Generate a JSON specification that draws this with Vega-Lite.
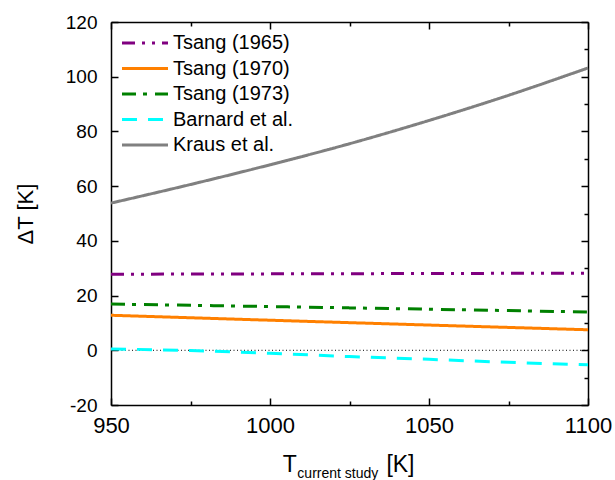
{
  "$schema": "https://vega.github.io/schema/vega-lite/v6.json",
  "width": 477,
  "height": 383,
  "autosize": "none",
  "padding": {"left": 111, "top": 22, "right": 27, "bottom": 75},
  "background": "white",
  "config": {
    "font": "Liberation Sans",
    "view": {"stroke": null},
    "legend": {
      "orient": "none",
      "legendX": 21,
      "legendY": 8,
      "padding": 0,
      "labelFont": "Liberation Sans",
      "labelFontSize": 20,
      "labelColor": "black",
      "symbolType": "M-2,0H2",
      "symbolSize": 529,
      "symbolStrokeWidth": 3,
      "rowPadding": 2.5,
      "labelOffset": 15
    }
  },
  "datasets": {
    "curves": [
      {"series": "Tsang (1965)", "T": 950, "dT": 27.8},
      {"series": "Tsang (1965)", "T": 1025, "dT": 28.0},
      {"series": "Tsang (1965)", "T": 1100, "dT": 28.2},
      {"series": "Tsang (1970)", "T": 950, "dT": 12.8},
      {"series": "Tsang (1970)", "T": 1025, "dT": 10.1},
      {"series": "Tsang (1970)", "T": 1100, "dT": 7.5},
      {"series": "Tsang (1973)", "T": 950, "dT": 16.9},
      {"series": "Tsang (1973)", "T": 1025, "dT": 15.5},
      {"series": "Tsang (1973)", "T": 1100, "dT": 14.0},
      {"series": "Barnard et al.", "T": 950, "dT": 0.5},
      {"series": "Barnard et al.", "T": 975, "dT": -0.1},
      {"series": "Barnard et al.", "T": 1000, "dT": -1.1},
      {"series": "Barnard et al.", "T": 1025, "dT": -2.3},
      {"series": "Barnard et al.", "T": 1050, "dT": -3.3},
      {"series": "Barnard et al.", "T": 1075, "dT": -4.4},
      {"series": "Barnard et al.", "T": 1100, "dT": -5.3},
      {"series": "Kraus et al.", "T": 950, "dT": 53.8},
      {"series": "Kraus et al.", "T": 975, "dT": 60.6},
      {"series": "Kraus et al.", "T": 1000, "dT": 67.8},
      {"series": "Kraus et al.", "T": 1025, "dT": 75.5},
      {"series": "Kraus et al.", "T": 1050, "dT": 84.0},
      {"series": "Kraus et al.", "T": 1075, "dT": 93.2},
      {"series": "Kraus et al.", "T": 1100, "dT": 103.2}
    ],
    "zero": [
      {"T": 950, "dT": 0},
      {"T": 1100, "dT": 0}
    ]
  },
  "layer": [
    {
      "layer": [
        {
          "data": {"name": "zero"},
          "mark": {"type": "line", "color": "black", "strokeWidth": 1, "strokeDash": [1, 2.5]},
          "encoding": {
            "x": {
              "field": "T", "type": "quantitative",
              "scale": {"domain": [950, 1100], "nice": false, "zero": false},
              "axis": {
                "orient": "bottom",
                "title": null,
                "grid": false,
                "values": [950, 975, 1000, 1025, 1050, 1075, 1100],
                "labelExpr": "datum.value % 50 === 0 ? toString(datum.value) : ''",
                "labelOverlap": false,
                "labelBound": false,
                "labelFlush": false,
                "labelFont": "Liberation Sans",
                "labelFontSize": 22,
                "labelColor": "black",
                "labelPadding": 17,
                "tickSize": {"condition": {"test": "datum.value % 50 === 0", "value": -7}, "value": -4},
                "tickColor": "black",
                "tickWidth": 1.5,
                "domainColor": "black",
                "domainWidth": 1.5
              }
            },
            "y": {
              "field": "dT", "type": "quantitative",
              "scale": {"domain": [-20, 120], "nice": false, "zero": false},
              "axis": {
                "orient": "left",
                "title": "ΔT [K]",
                "titleFont": "Liberation Sans",
                "titleFontSize": 22,
                "titleFontWeight": "normal",
                "titleColor": "black",
                "titlePadding": 28,
                "grid": false,
                "values": [-20, -10, 0, 10, 20, 30, 40, 50, 60, 70, 80, 90, 100, 110, 120],
                "labelExpr": "datum.value % 20 === 0 ? toString(datum.value) : ''",
                "labelOverlap": false,
                "labelBound": false,
                "labelFlush": false,
                "labelFont": "Liberation Sans",
                "labelFontSize": 19,
                "labelColor": "black",
                "labelPadding": 21,
                "tickSize": {"condition": {"test": "datum.value % 20 === 0", "value": -7}, "value": -4},
                "tickColor": "black",
                "tickWidth": 1.5,
                "domainColor": "black",
                "domainWidth": 1.5
              }
            }
          }
        },
        {
          "data": {"name": "curves"},
          "mark": {"type": "line", "strokeWidth": 3, "interpolate": "monotone"},
          "encoding": {
            "x": {"field": "T", "type": "quantitative", "scale": {"domain": [950, 1100], "nice": false, "zero": false}},
            "y": {"field": "dT", "type": "quantitative", "scale": {"domain": [-20, 120], "nice": false, "zero": false}},
            "color": {
              "field": "series", "type": "nominal",
              "scale": {
                "domain": ["Tsang (1965)", "Tsang (1970)", "Tsang (1973)", "Barnard et al.", "Kraus et al."],
                "range": ["#800080", "#ff8000", "#008000", "#00ffff", "#808080"]
              },
              "legend": {"title": null}
            },
            "strokeDash": {
              "field": "series", "type": "nominal",
              "scale": {
                "domain": ["Tsang (1965)", "Tsang (1970)", "Tsang (1973)", "Barnard et al.", "Kraus et al."],
                "range": [[13, 7, 3, 7, 3, 7], [1, 0], [14, 7, 4, 8], [15, 11], [1, 0]]
              },
              "legend": {"title": null}
            }
          }
        },
        {
          "data": {"values": [{}]},
          "mark": {"type": "text", "text": "T", "font": "Liberation Sans", "fontSize": 23, "align": "left", "baseline": "alphabetic", "color": "black"},
          "encoding": {
            "x": {"datum": 1004, "type": "quantitative", "scale": {"domain": [950, 1100], "nice": false, "zero": false}},
            "y": {"datum": -44.5, "type": "quantitative", "scale": {"domain": [-20, 120], "nice": false, "zero": false}}
          }
        },
        {
          "data": {"values": [{}]},
          "mark": {"type": "text", "text": "current study", "font": "Liberation Sans", "fontSize": 14, "align": "left", "baseline": "alphabetic", "color": "black"},
          "encoding": {
            "x": {"datum": 1008.6, "type": "quantitative", "scale": {"domain": [950, 1100], "nice": false, "zero": false}},
            "y": {"datum": -46.7, "type": "quantitative", "scale": {"domain": [-20, 120], "nice": false, "zero": false}}
          }
        },
        {
          "data": {"values": [{}]},
          "mark": {"type": "text", "text": "[K]", "font": "Liberation Sans", "fontSize": 23, "align": "left", "baseline": "alphabetic", "color": "black"},
          "encoding": {
            "x": {"datum": 1036.6, "type": "quantitative", "scale": {"domain": [950, 1100], "nice": false, "zero": false}},
            "y": {"datum": -44.5, "type": "quantitative", "scale": {"domain": [-20, 120], "nice": false, "zero": false}}
          }
        }
      ]
    },
    {
      "data": {"name": "zero"},
      "mark": {"type": "line", "opacity": 0},
      "encoding": {
        "x": {
          "field": "T", "type": "quantitative",
          "scale": {"domain": [950, 1100], "nice": false, "zero": false},
          "axis": {
            "orient": "top",
            "title": null,
            "grid": false,
            "labels": false,
            "values": [950, 975, 1000, 1025, 1050, 1075, 1100],
            "tickSize": {"condition": {"test": "datum.value % 50 === 0", "value": -7}, "value": -4},
            "tickColor": "black",
            "tickWidth": 1.5,
            "domainColor": "black",
            "domainWidth": 1.5
          }
        },
        "y": {
          "field": "dT", "type": "quantitative",
          "scale": {"domain": [-20, 120], "nice": false, "zero": false},
          "axis": {
            "orient": "right",
            "title": null,
            "grid": false,
            "labels": false,
            "values": [-20, -10, 0, 10, 20, 30, 40, 50, 60, 70, 80, 90, 100, 110, 120],
            "tickSize": {"condition": {"test": "datum.value % 20 === 0", "value": -7}, "value": -4},
            "tickColor": "black",
            "tickWidth": 1.5,
            "domainColor": "black",
            "domainWidth": 1.5
          }
        }
      }
    }
  ],
  "resolve": {"axis": {"x": "independent", "y": "independent"}}
}
